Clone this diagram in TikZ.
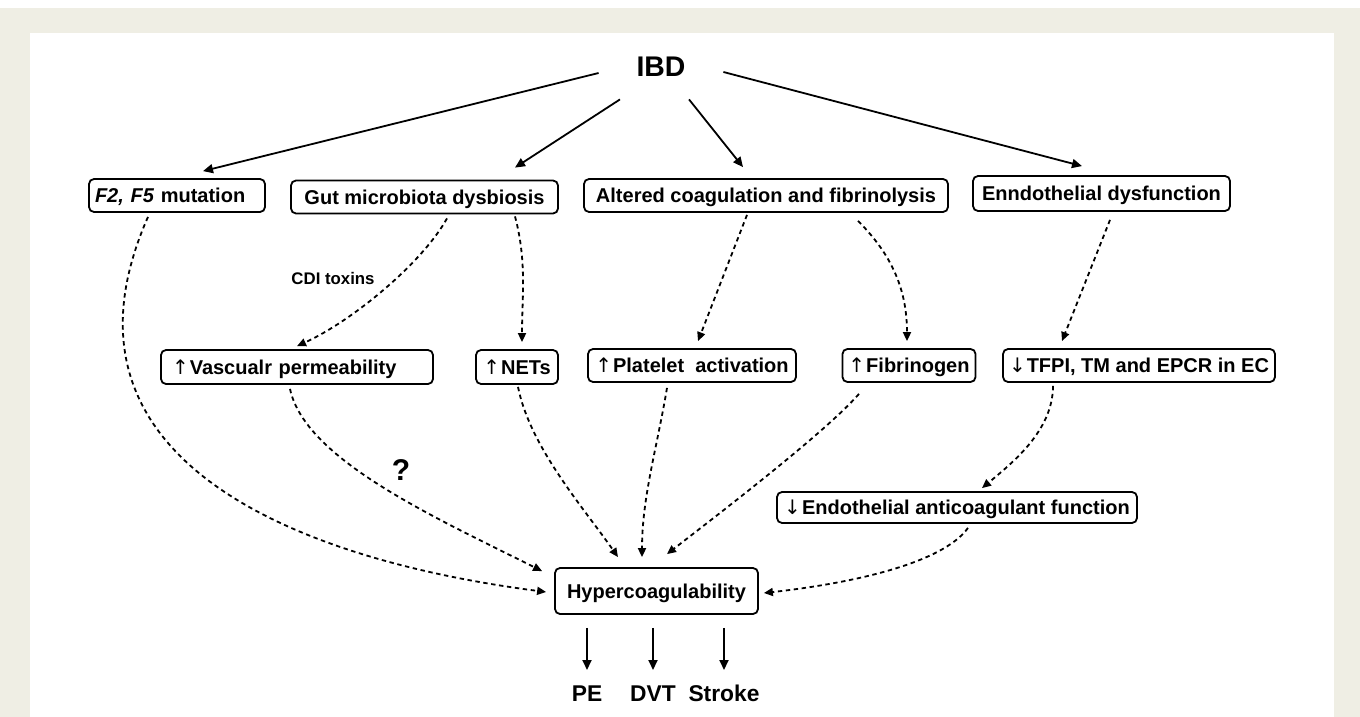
\documentclass[tikz,border=0pt]{standalone}
\usepackage{fontspec}
\setmainfont{Liberation Sans}
\newfontfamily\pijl{DejaVu Sans}
\usepackage{tikz}
\usetikzlibrary{positioning,calc}
\usetikzlibrary{arrows.meta}
\definecolor{cornice}{RGB}{239,238,228}
\newcommand{\su}{{\pijl\mdseries ↑}\hspace{0.5pt}}
\newcommand{\giu}{{\pijl\mdseries ↓}\hspace{0.5pt}}
\tikzstyle{box} = [rectangle, rounded corners=2.5pt, draw=black, line width=0.9pt,
minimum height=16.5pt, inner xsep=3pt, inner ysep=2pt, text height=9.2pt, text depth=2pt, text centered, font=\bfseries\fontsize{10}{12}\selectfont]
\tikzstyle{titolo} = [inner sep=0pt, font=\bfseries\fontsize{14.2}{17}\selectfont]
\tikzstyle{esito} = [anchor=north, inner sep=0pt, text height=8.2pt, text depth=0pt, font=\bfseries\fontsize{11.4}{13}\selectfont]
\tikzstyle{arrow} = [line width=0.9pt, -{Triangle[length=5pt,width=4.5pt]}]
\tikzstyle{dasharrow} = [line width=0.9pt, dash pattern=on 2.2pt off 1.8pt, -{Triangle[length=4.5pt,width=4pt]}]

\begin{document}
\begin{tikzpicture}[x=0.5pt,y=-0.5pt]
	\useasboundingbox (0,0) rectangle (1360,717);
	\fill[white] (0,0) rectangle (1360,717);
	\fill[cornice] (0,8) rectangle (1360,717);
	\fill[white] (30,33) rectangle (1334,717);
	% top
	\node (ibd) at (661,67) [titolo, minimum width=62pt, minimum height=32pt] {IBD};
	\node (f2f5) at (177,195.5) [box, text width=82pt, align=left] {\textit{F2, F5} mutation};
	\node (gut) at (424.5,197) [box, minimum width=133.5pt] {Gut microbiota dysbiosis};
	\node (altered) at (766,195.5) [box, minimum width=182pt] {Altered coagulation and fibrinolysis};
	\node (enndo) at (1101.5,193.5) [box, minimum width=128.5pt, minimum height=17.5pt] {Enndothelial dysfunction};
	% middle
	\node (vasc) at (297,367) [box, text width=125pt, inner xsep=5.5pt, align=left, minimum height=17pt] {\su Vascualr permeability};
	\node (nets) at (517,367) [box, minimum width=41pt, minimum height=17pt] {\su NETs};
	\node (platelet) at (692,365.5) [box, minimum width=104pt] {\su Platelet~ activation};
	\node (fibrinogen) at (909,365.5) [box, minimum width=65pt] {\su Fibrinogen};
	\node (tfpi) at (1139,365.5) [box, minimum width=135pt] {\giu TFPI, TM and EPCR in EC};
	\node (endoanti) at (957,507.5) [box, minimum width=180pt, minimum height=15.5pt] {\giu Endothelial anticoagulant function};
	\node (hyper) at (656.5,591) [box, minimum width=101.5pt, minimum height=23pt] {Hypercoagulability};
	\node (q) at (401,470) [font=\bfseries\fontsize{15}{18}\selectfont] {?};
	% bottom
	\node (pe) at (587,685) [esito] {PE};
	\node (dvt) at (653,685) [esito] {DVT};
	\node (stroke) at (724,685) [esito] {Stroke};
	% IBD arrows
	\draw[arrow] ([shift={(0,6)}]ibd.west) -- ([shift={(26,-7)}]f2f5.north);
	\draw[arrow] ([shift={(-41,0)}]ibd.south) -- ([shift={(90.5,-12)}]gut.north);
	\draw[arrow] ([shift={(28,0)}]ibd.south) -- ([shift={(-23,-11)}]altered.north);
	\draw[arrow] ([shift={(0,5)}]ibd.east) -- ([shift={(-19.5,-9)}]enndo.north);
	% dashed links
	\draw[dasharrow] ([shift={(-29,4)}]f2f5.south) .. controls +(-108,244) and +(-247,-32) .. ([shift={(-8,1)}]hyper.west);
	\draw[dasharrow] ([shift={(22.5,4)}]gut.south) .. controls +(-25,45) and +(55,-25) .. ([shift={(0,-3)}]vasc.north)
		node[pos=0.42, left=7pt, font=\bfseries\fontsize{8.4}{10}\selectfont] {CDI toxins};
	\draw[dasharrow] ([shift={(90.5,2)}]gut.south) .. controls +(12,45) and +(0,-45) .. ([shift={(5,-7)}]nets.north);
	\draw[dasharrow] ([shift={(-19,2)}]altered.south) -- ([shift={(6,-7)}]platelet.north);
	\draw[dasharrow] ([shift={(92,8)}]altered.south) .. controls +(35,35) and +(0,-50) .. ([shift={(-2,-7)}]fibrinogen.north);
	\draw[dasharrow] ([shift={(8.5,8)}]enndo.south) -- ([shift={(-77,-7)}]tfpi.north);
	\draw[dasharrow] ([shift={(-7,4)}]vasc.south) .. controls +(15,70) and +(-110,-55) .. ([shift={(-12,4)}]hyper.north west);
	\draw[dasharrow] ([shift={(1,2)}]nets.south) .. controls +(12,60) and +(-35,-50) .. ([shift={(-38.5,-10)}]hyper.north);
	\draw[dasharrow] ([shift={(-25,5)}]platelet.south) .. controls +(-10,60) and +(0,-60) .. ([shift={(-14.5,-10)}]hyper.north);
	\draw[dasharrow] ([shift={(-50,11)}]fibrinogen.south) .. controls +(-35,40) and +(45,-35) .. ([shift={(10.5,-13)}]hyper.north);
	\draw[dasharrow] ([shift={(-86,3)}]tfpi.south) .. controls +(0,45) and +(30,-25) .. ([shift={(25,-3)}]endoanti.north);
	\draw[dasharrow] ([shift={(11,4)}]endoanti.south) .. controls +(-25,35) and +(90,-10) .. ([shift={(5,2)}]hyper.east);
	% outcomes
	\draw[arrow, shorten <=6.5pt, shorten >=7.5pt] (pe.north |- hyper.south) -- (pe.north);
	\draw[arrow, shorten <=6.5pt, shorten >=7.5pt] (dvt.north |- hyper.south) -- (dvt.north);
	\draw[arrow, shorten <=6.5pt, shorten >=7.5pt] (stroke.north |- hyper.south) -- (stroke.north);
\end{tikzpicture}
\end{document}
